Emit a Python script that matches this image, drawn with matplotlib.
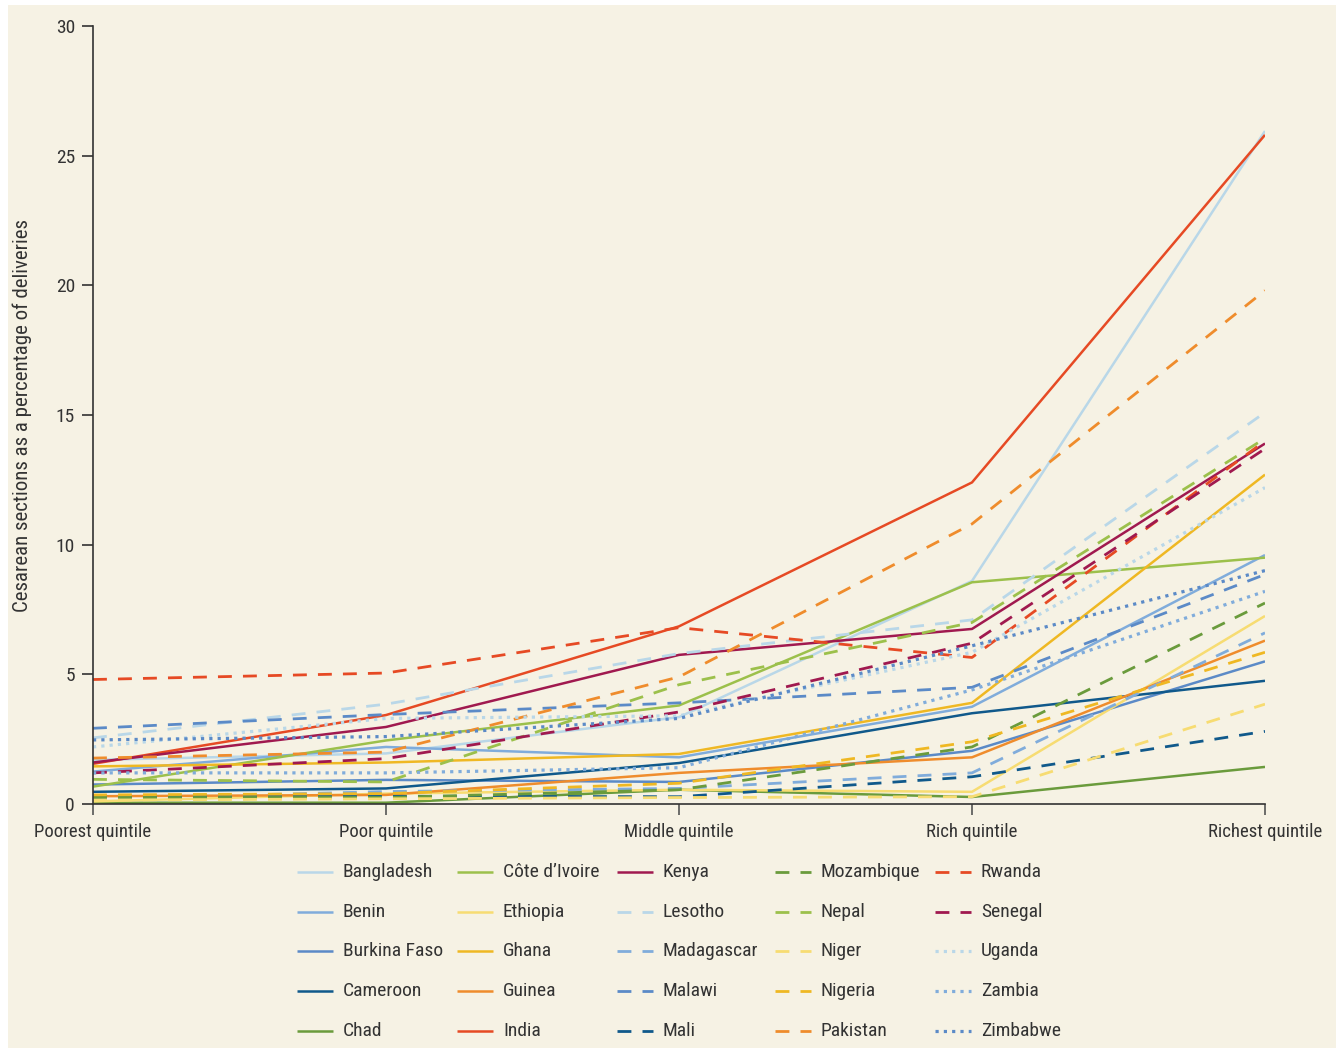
import matplotlib
matplotlib.use("Agg")
import matplotlib.pyplot as plt
from matplotlib.patches import Rectangle
from matplotlib.lines import Line2D
from matplotlib import font_manager

# --- data (percent of deliveries by wealth quintile) ---
quintiles = ["Poorest quintile", "Poor quintile", "Middle quintile",
             "Rich quintile", "Richest quintile"]

bangladesh = [1.7, 1.95, 3.35, 8.6, 25.95]
benin = [1.25, 2.2, 1.8, 3.75, 9.6]
burkina_faso = [0.75, 0.93, 0.85, 2.05, 5.5]
cameroon = [0.47, 0.6, 1.58, 3.5, 4.75]
chad = [0.05, 0.05, 0.55, 0.27, 1.43]
cote_divoire = [0.67, 2.45, 3.8, 8.55, 9.5]
ethiopia = [0.1, 0.4, 0.55, 0.47, 7.25]
ghana = [1.45, 1.6, 1.93, 3.9, 12.7]
guinea = [0.3, 0.35, 1.2, 1.8, 6.3]
india = [1.55, 3.43, 6.85, 12.4, 25.8]
kenya = [1.6, 2.97, 5.75, 6.75, 13.9]
lesotho = [2.55, 3.85, 5.8, 7.1, 15.1]
madagascar = [0.2, 0.48, 0.6, 1.2, 6.6]
malawi = [2.92, 3.45, 3.9, 4.5, 8.85]
mali = [0.3, 0.3, 0.28, 1.05, 2.8]
mozambique = [0.25, 0.25, 0.55, 2.2, 7.75]
nepal = [0.95, 0.85, 4.6, 7.0, 14.1]
niger = [0.15, 0.2, 0.25, 0.28, 3.85]
nigeria = [0.35, 0.4, 0.8, 2.4, 5.85]
pakistan = [1.77, 2.0, 4.9, 10.8, 19.8]
rwanda = [4.8, 5.05, 6.8, 5.65, 14.0]
senegal = [1.2, 1.75, 3.55, 6.2, 13.7]
uganda = [2.2, 3.3, 3.4, 5.85, 12.2]
zambia = [1.2, 1.2, 1.4, 4.4, 8.2]
zimbabwe = [2.47, 2.6, 3.3, 6.1, 9.0]

countries = ["Bangladesh", "Benin", "Burkina Faso", "Cameroon", "Chad",
             "Côte d\u2019Ivoire", "Ethiopia", "Ghana", "Guinea", "India",
             "Kenya", "Lesotho", "Madagascar", "Malawi", "Mali",
             "Mozambique", "Nepal", "Niger", "Nigeria", "Pakistan",
             "Rwanda", "Senegal", "Uganda", "Zambia", "Zimbabwe"]
series = [bangladesh, benin, burkina_faso, cameroon, chad,
          cote_divoire, ethiopia, ghana, guinea, india,
          kenya, lesotho, madagascar, malawi, mali,
          mozambique, nepal, niger, nigeria, pakistan,
          rwanda, senegal, uganda, zambia, zimbabwe]

palette = ["#b9d7e8", "#80acdb", "#5b8ac7", "#10598b", "#6a9b3c",
           "#9cc04b", "#f7dc72", "#efb823", "#ef8c2c", "#e64a24",
           "#a0194f"]

names = {f.name for f in font_manager.fontManager.ttflist}
family = "DejaVu Sans"
for cand in ["Roboto Condensed", "Liberation Sans Narrow", "Open Sans Condensed"]:
    if cand in names:
        family = cand
        break
plt.rcParams["font.family"] = [family, "DejaVu Sans"]
if family == "DejaVu Sans":
    plt.rcParams["font.stretch"] = "condensed"

W, H = 1336, 1048
bg = "#f6f2e4"
txt = "#333333"
fig = plt.figure(figsize=(W / 100, H / 100), dpi=100, facecolor="white")
fig.patches.append(Rectangle((8 / W, 0), 1 - 8 / W, 1 - 5 / H,
                             transform=fig.transFigure, facecolor=bg,
                             edgecolor="none", zorder=-10))
ax = fig.add_axes([93 / W, 1 - 804 / H, (1265 - 93) / W, (804 - 26) / H])
ax.patch.set_alpha(0)


def style_of(i):
    if i < 11:
        return "-", 1.8
    if i < 22:
        return (0, (5, 4)), 2.0
    return (0, (1, 1.6)), 2.3


x = list(range(len(quintiles)))
for i, (name, vals) in enumerate(zip(countries, series)):
    ls, lw = style_of(i)
    ax.plot(x, vals, color=palette[i % 11], linestyle=ls, linewidth=lw,
            label=name, solid_capstyle="butt", dash_capstyle="butt")

ax.set_xlim(0, 4)
ax.set_ylim(0, 30)
ax.set_xticks(x)
ax.set_xticklabels(quintiles, fontsize=13.5, color=txt)
ax.set_yticks(range(0, 31, 5))
ax.tick_params(axis="y", labelsize=14, labelcolor=txt, length=8,
               width=1.2, color=txt, pad=5)
ax.tick_params(axis="x", length=8, width=1.2, color="#555555", pad=6)
for s in ("top", "right"):
    ax.spines[s].set_visible(False)
for s in ("left", "bottom"):
    ax.spines[s].set_color(txt)
    ax.spines[s].set_linewidth(1.2)
ax.set_ylabel("Cesarean sections as a percentage of deliveries", fontsize=15,
              color=txt)
ax.yaxis.set_label_coords((32 - 93) / (1265 - 93), 0.5)

# legend: 5 columns x 5 rows, placed to match the reference grid
col_x = [297, 457, 617, 775, 935]
row_y = [872, 912, 951, 991, 1031]
for i, name in enumerate(countries):
    c, r = divmod(i, 5)
    ls, lw = style_of(i)
    x0 = col_x[c]
    y0 = 1 - row_y[r] / H
    fig.add_artist(Line2D([x0 / W, (x0 + 36) / W], [y0, y0],
                          transform=fig.transFigure, color=palette[i % 11],
                          linestyle=ls, linewidth=lw, solid_capstyle="butt",
                          dash_capstyle="butt"))
    fig.text((x0 + 46) / W, y0, name, fontsize=14, color=txt,
             va="center", ha="left")

fig.savefig("out.png", dpi=100, facecolor=fig.get_facecolor())
